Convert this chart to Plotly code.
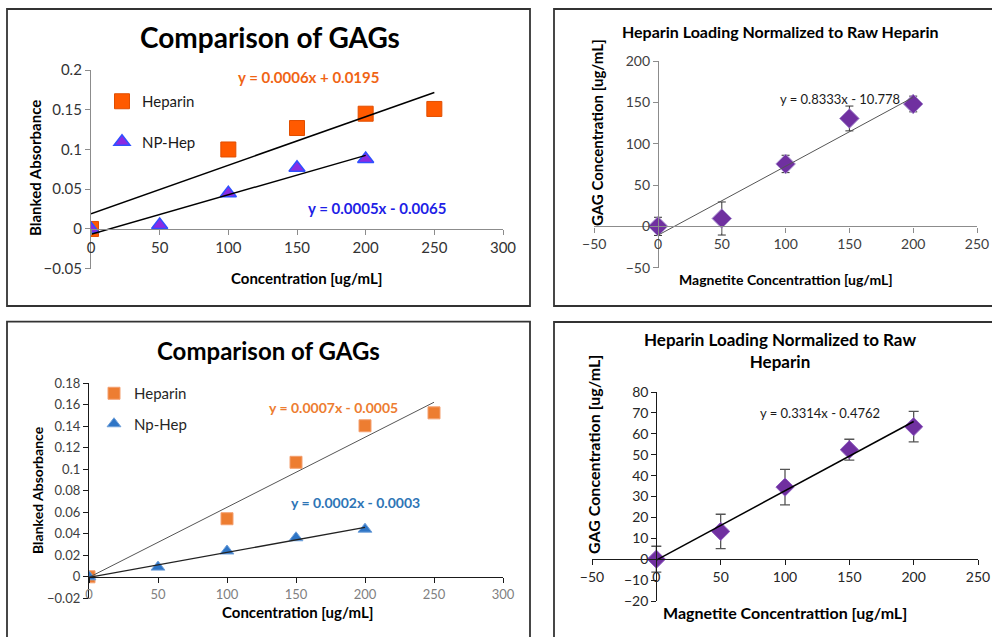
import numpy as np
import plotly.graph_objects as go

W, H = 992, 637

# ---------------- data ----------------
# Panel 1 (top-left)
p1_hep_x = [0, 100, 150, 200, 250]
p1_hep_y = [0.0, 0.100, 0.127, 0.145, 0.151]
p1_np_x = [0, 50, 100, 150, 200]
p1_np_y = [0.0, 0.005, 0.045, 0.077, 0.088]
p1_eq = ["y = 0.0006x + 0.0195", "y = 0.0005x - 0.0065"]
p1_names = ["Heparin", "NP-Hep"]

# Panel 2 (top-right)
p2_x = [0, 50, 100, 150, 200]
p2_y = [0.0, 9.5, 75.5, 130.5, 148.0]
p2_err = [11, 20, 10.5, 15, 9.5]
p2_eq = "y = 0.8333x - 10.778"

# Panel 3 (bottom-left)
p3_hep_x = [0, 100, 150, 200, 250]
p3_hep_y = [0.0, 0.054, 0.1065, 0.1405, 0.1525]
p3_np_x = [0, 50, 100, 150, 200]
p3_np_y = [0.0, 0.009, 0.024, 0.0363, 0.0443]
p3_eq = ["y = 0.0007x - 0.0005", "y = 0.0002x - 0.0003"]
p3_names = ["Heparin", "Np-Hep"]

# Panel 4 (bottom-right)
p4_x = [0, 50, 100, 150, 200]
p4_y = [0.0, 13.3, 34.5, 52.4, 63.4]
p4_err = [6.2, 8.2, 8.5, 5.0, 7.3]
p4_eq = "y = 0.3314x - 0.4762"

# axis ranges / ticks
p1_xr, p1_yr, p1_dx, p1_dy = [0, 300], [-0.05, 0.2], 50, 0.05
p2_xr, p2_yr, p2_dx, p2_dy = [-50, 250], [-50, 200], 50, 50
p3_xr, p3_yr, p3_dx, p3_dy = [0, 300], [-0.02, 0.18], 50, 0.02
p4_xr, p4_yr, p4_dx, p4_dy = [-50, 250], [-20, 80], 50, 10

FONT = "Lato, 'Open Sans', sans-serif"


def fx(px):
    return px / W


def fy(py):
    return 1 - py / H


def fit_line(xs, ys):
    m, b = np.polyfit(xs, ys, 1)
    xx = np.array([min(xs), max(xs)], dtype=float)
    return xx, m * xx + b


fig = go.Figure()

# ---------- panel 1 ----------
fig.add_trace(go.Scatter(x=p1_hep_x, y=p1_hep_y, mode="markers", name=p1_names[0],
                         xaxis="x", yaxis="y", legend="legend", legendgroup="a",
                         marker=dict(symbol="square", size=15, color="#FF5A00",
                                     line=dict(color="#E04E00", width=1))))
fig.add_trace(go.Scatter(x=p1_np_x, y=p1_np_y, mode="markers", name=p1_names[1],
                         xaxis="x", yaxis="y", legend="legend", legendgroup="b",
                         marker=dict(symbol="triangle-up", size=14, color="#8A2BE2",
                                     line=dict(color="#3050FF", width=1.5))))
for xs, ys in [(p1_hep_x, p1_hep_y), (p1_np_x, p1_np_y)]:
    lx, ly = fit_line(xs, ys)
    fig.add_trace(go.Scatter(x=lx, y=ly, mode="lines", showlegend=False, hoverinfo="skip",
                             xaxis="x", yaxis="y", line=dict(color="black", width=1.5)))

# ---------- panel 2 ----------
fig.add_trace(go.Scatter(x=p2_x, y=p2_y, mode="markers", showlegend=False,
                         xaxis="x2", yaxis="y2",
                         error_y=dict(type="data", array=p2_err, color="#333333",
                                      thickness=1, width=4),
                         marker=dict(symbol="diamond", size=15, color="#7030A0",
                                     line=dict(color="#A58ACD", width=1))))
lx, ly = fit_line(p2_x, p2_y)
fig.add_trace(go.Scatter(x=lx, y=ly, mode="lines", showlegend=False, hoverinfo="skip",
                         xaxis="x2", yaxis="y2", line=dict(color="#555555", width=1)))

# ---------- panel 3 ----------
fig.add_trace(go.Scatter(x=p3_hep_x, y=p3_hep_y, mode="markers", name=p3_names[0],
                         xaxis="x3", yaxis="y3", legend="legend2", legendgroup="c",
                         marker=dict(symbol="square", size=12, color="#ED7D31",
                                     line=dict(color="#F4A070", width=1))))
fig.add_trace(go.Scatter(x=p3_np_x, y=p3_np_y, mode="markers", name=p3_names[1],
                         xaxis="x3", yaxis="y3", legend="legend2", legendgroup="d",
                         marker=dict(symbol="triangle-up", size=12, color="#2E75C6",
                                     line=dict(color="#6FA0DA", width=1))))
lx, ly = fit_line(p3_hep_x, p3_hep_y)
fig.add_trace(go.Scatter(x=lx, y=ly, mode="lines", showlegend=False, hoverinfo="skip",
                         xaxis="x3", yaxis="y3", line=dict(color="#555555", width=1)))
lx, ly = fit_line(p3_np_x, p3_np_y)
fig.add_trace(go.Scatter(x=lx, y=ly, mode="lines", showlegend=False, hoverinfo="skip",
                         xaxis="x3", yaxis="y3", line=dict(color="#222222", width=1.3)))

# ---------- panel 4 ----------
fig.add_trace(go.Scatter(x=p4_x, y=p4_y, mode="markers", showlegend=False,
                         xaxis="x4", yaxis="y4",
                         error_y=dict(type="data", array=p4_err, color="#555555",
                                      thickness=1.3, width=5),
                         marker=dict(symbol="diamond", size=14, color="#7030A0",
                                     line=dict(color="#8E5BC0", width=1))))
lx, ly = fit_line(p4_x, p4_y)
fig.add_trace(go.Scatter(x=lx, y=ly, mode="lines", showlegend=False, hoverinfo="skip",
                         xaxis="x4", yaxis="y4", line=dict(color="black", width=1.5)))


# ---------- axes ----------
def axis(rng, dtick, dom, linecolor, tickcolor, size, **kw):
    d = dict(range=rng, dtick=dtick, tick0=0, domain=dom, showgrid=False, zeroline=False,
             showline=True, linecolor=linecolor, linewidth=1.3, ticks="outside", ticklen=5,
             tickcolor=linecolor, tickwidth=1.3, automargin=False,
             tickfont=dict(family=FONT, size=size, color=tickcolor), fixedrange=True)
    d.update(kw)
    return d


def zero_pos(dom, rng):
    return dom[0] + (0 - rng[0]) / (rng[1] - rng[0]) * (dom[1] - dom[0])


# panel domains (pixels -> paper)
p1_xd, p1_yd = [fx(91), fx(503)], [fy(268.7), fy(70)]
p2_xd, p2_yd = [fx(594.2), fx(977)], [fy(267.7), fy(61)]
p3_xd, p3_yd = [fx(89), fx(503)], [fy(598.3), fy(383.3)]
p4_xd, p4_yd = [fx(592), fx(978)], [fy(601), fy(392)]

layout = dict(
    width=W, height=H, margin=dict(l=0, r=0, t=0, b=0, pad=0), autosize=False,
    paper_bgcolor="white", plot_bgcolor="rgba(0,0,0,0)",
    xaxis=axis(p1_xr, p1_dx, p1_xd, "#8C8C8C", "#333333", 15,
               anchor="free", position=zero_pos(p1_yd, p1_yr)),
    yaxis=axis(p1_yr, p1_dy, p1_yd, "#8C8C8C", "#333333", 15, anchor="x"),
    xaxis2=axis(p2_xr, p2_dx, p2_xd, "#8C8C8C", "#404040", 14,
                anchor="free", position=zero_pos(p2_yd, p2_yr)),
    yaxis2=axis(p2_yr, p2_dy, p2_yd, "#8C8C8C", "#404040", 14,
                anchor="free", position=zero_pos(p2_xd, p2_xr)),
    xaxis3=axis(p3_xr, p3_dx, p3_xd, "#1A1A1A", "#7F7F7F", 13,
                anchor="free", position=zero_pos(p3_yd, p3_yr)),
    yaxis3=axis(p3_yr, p3_dy, p3_yd, "#1A1A1A", "#404040", 13, anchor="x3"),
    xaxis4=axis(p4_xr, p4_dx, p4_xd, "#1A1A1A", "#262626", 14,
                anchor="free", position=zero_pos(p4_yd, p4_yr)),
    yaxis4=axis(p4_yr, p4_dy, p4_yd, "#1A1A1A", "#262626", 14,
                anchor="free", position=zero_pos(p4_xd, p4_xr)),
    legend=dict(x=fx(102), y=fy(85), xanchor="left", yanchor="top", bgcolor="rgba(0,0,0,0)",
                font=dict(family=FONT, size=15, color="#1A1A1A"), tracegroupgap=18,
                itemsizing="trace"),
    legend2=dict(x=fx(94), y=fy(377), xanchor="left", yanchor="top", bgcolor="rgba(0,0,0,0)",
                 font=dict(family=FONT, size=15, color="#262626"), tracegroupgap=8,
                 itemsizing="trace"),
    showlegend=True,
)
fig.update_layout(**layout)

# ---------- panel frames ----------
frames = [(7, 9, 530, 306), (554, 9, 993, 306), (7, 321.7, 530, 640), (554, 322, 993, 640)]
for x0, y0, x1, y1 in frames:
    fig.add_shape(type="rect", xref="paper", yref="paper", x0=fx(x0), x1=fx(x1),
                  y0=fy(y1), y1=fy(y0), line=dict(color="#333333", width=1.8))


# ---------- text ----------
def txt(text, x, y, size, color="#000000", bold=True, angle=0):
    t = "<b>%s</b>" % text if bold else text
    fig.add_annotation(text=t, x=fx(x), y=fy(y), xref="paper", yref="paper", showarrow=False,
                       xanchor="center", yanchor="middle", textangle=angle,
                       font=dict(family=FONT, size=size, color=color))


# panel 1
txt("Comparison of GAGs", 270, 37, 28)
txt(p1_eq[0], 308, 77, 15, color="#F06414")
txt(p1_eq[1], 377, 208, 15, color="#1E1EE6")
txt("Blanked Absorbance", 35, 168, 15, angle=-90)
txt("Concentration [ug/mL]", 306, 278, 15)

# panel 2
txt("Heparin Loading Normalized to Raw Heparin", 780, 32, 16)
txt(p2_eq, 840, 99, 13, color="#1A1A1A", bold=False)
txt("GAG Concentration [ug/mL]", 597, 133, 15, angle=-90)
txt("Magnetite Concentrattion [ug/mL]", 786, 279, 14)

# panel 3
txt("Comparison of GAGs", 268, 350, 24)
txt(p3_eq[0], 333, 407, 14, color="#ED7D31")
txt(p3_eq[1], 355, 503, 14, color="#2E75B6")
txt("Blanked Absorbance", 37, 490, 14, angle=-90)
txt("Concentration [ug/mL]", 297, 612, 15)

# panel 4
txt("Heparin Loading Normalized to Raw<br>Heparin", 780, 351, 17)
txt(p4_eq, 820, 413, 13, color="#1A1A1A", bold=False)
txt("GAG Concentration [ug/mL]", 593, 455, 16, angle=-90)
txt("Magnetite Concentrattion [ug/mL]", 785, 612, 16)

fig.write_html("out.html", config={"displayModeBar": False},
               post_script="document.body.style.margin='0';document.body.style.overflow='hidden';")
